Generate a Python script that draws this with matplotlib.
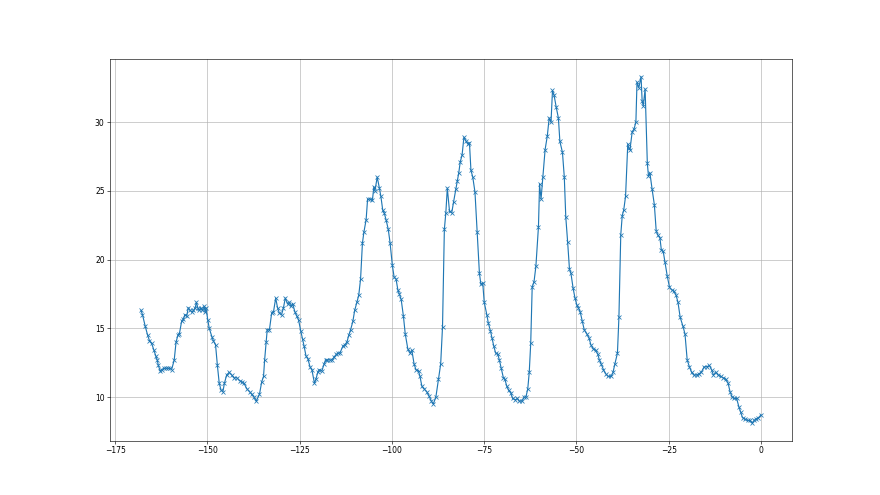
import matplotlib
matplotlib.use("Agg")
import matplotlib.pyplot as plt

hours = [
    -168.0, -167.6, -166.9, -166.2, -165.7, -165.1, -164.5, -164.0, -163.6, -163.3,
    -162.8, -162.4, -161.8, -161.3, -160.7, -160.2, -159.7, -159.0, -158.5, -158.0,
    -157.6, -157.0, -156.5, -156.1, -155.6, -155.2, -154.7, -154.2, -153.8, -153.3,
    -153.0, -152.6, -152.3, -151.8, -151.4, -150.9, -150.6, -150.4, -149.9, -149.5,
    -148.8, -148.4, -147.8, -147.3, -146.8, -146.3, -145.8, -145.4, -144.8, -144.1,
    -143.4, -142.8, -142.0, -141.3, -140.7, -140.1, -139.3, -138.6, -138.0, -137.4,
    -136.8, -135.9, -135.3, -134.8, -134.5, -134.1, -133.8, -133.2, -132.6, -132.1,
    -131.5, -131.0, -130.5, -129.9, -129.4, -128.9, -128.3, -127.8, -127.4, -126.9,
    -126.3, -125.8, -125.3, -124.7, -124.2, -123.8, -123.3, -122.8, -122.2, -121.7,
    -121.0, -120.6, -120.1, -119.7, -119.0, -118.4, -118.0, -117.5, -116.9, -116.3,
    -115.7, -115.1, -114.6, -114.1, -113.3, -112.8, -112.2, -111.7, -111.2, -110.6,
    -110.1, -109.5, -109.0, -108.5, -108.0, -107.6, -107.0, -106.6, -105.9, -105.3,
    -104.9, -104.6, -104.0, -103.4, -103.0, -102.5, -102.1, -101.6, -101.0, -100.5,
    -99.9, -99.4, -98.9, -98.4, -98.0, -97.5, -96.9, -96.4, -95.7, -95.1,
    -94.6, -94.0, -93.5, -92.8, -92.4, -91.9, -91.3, -90.6, -90.0, -89.3,
    -88.8, -88.1, -87.4, -86.8, -86.3, -85.8, -85.4, -85.0, -84.4, -83.8,
    -83.3, -82.7, -82.3, -81.9, -81.5, -81.0, -80.5, -79.9, -79.4, -79.0,
    -78.6, -78.1, -77.5, -76.9, -76.3, -75.9, -75.4, -75.0, -74.3, -73.9,
    -73.3, -72.9, -72.4, -71.9, -71.3, -70.9, -70.4, -69.8, -69.4, -68.9,
    -68.4, -67.8, -67.3, -66.6, -66.0, -65.5, -64.8, -64.2, -63.7, -63.2,
    -62.8, -62.4, -62.0, -61.5, -61.0, -60.3, -60.0, -59.6, -59.1, -58.5,
    -57.9, -57.4, -56.9, -56.5, -56.1, -55.5, -54.9, -54.5, -53.8, -53.3,
    -52.9, -52.4, -51.9, -51.5, -50.9, -50.4, -49.9, -49.5, -49.0, -48.4,
    -47.9, -47.2, -46.6, -46.1, -45.4, -44.8, -44.2, -43.8, -43.3, -42.7,
    -42.1, -41.4, -40.6, -40.1, -39.6, -38.9, -38.5, -38.0, -37.6, -37.2,
    -36.7, -36.1, -35.8, -35.5, -34.9, -34.4, -33.9, -33.6, -33.1, -32.5,
    -32.2, -31.9, -31.4, -30.8, -30.5, -30.1, -29.5, -28.9, -28.4, -28.0,
    -27.4, -27.0, -26.5, -26.0, -25.4, -24.8, -24.2, -23.6, -23.0, -22.5,
    -21.9, -21.2, -20.6, -20.0, -19.4, -18.8, -18.2, -17.4, -16.8, -16.2,
    -15.4, -14.7, -14.0, -13.4, -12.9, -12.2, -11.6, -10.9, -10.2, -9.6,
    -8.9, -8.4, -7.8, -7.2, -6.6, -6.0, -5.5, -5.0, -4.3, -3.6,
    -3.0, -2.4, -1.9, -1.4, -0.7, 0.0,
]

values = [
    16.3, 16.0, 15.2, 14.5, 14.1, 13.9, 13.4, 13.0, 12.7, 12.3,
    11.9, 12.0, 12.1, 12.1, 12.1, 12.1, 12.0, 12.7, 14.0, 14.5,
    14.6, 15.5, 15.7, 16.0, 15.9, 16.5, 16.3, 16.2, 16.3, 16.5,
    16.9, 16.5, 16.3, 16.5, 16.3, 16.6, 16.2, 16.5, 15.6, 15.0,
    14.4, 14.1, 13.8, 12.3, 11.0, 10.5, 10.4, 11.0, 11.6, 11.8,
    11.6, 11.4, 11.4, 11.2, 11.1, 11.0, 10.6, 10.4, 10.2, 10.0,
    9.7, 10.2, 11.1, 11.5, 12.7, 14.0, 14.9, 14.9, 16.1, 16.2,
    17.2, 16.5, 16.1, 16.0, 16.5, 17.2, 16.8, 16.9, 16.6, 16.8,
    16.2, 15.9, 15.6, 14.8, 14.2, 13.7, 13.0, 12.8, 12.2, 12.0,
    11.0, 11.3, 11.8, 12.0, 11.9, 12.4, 12.7, 12.7, 12.7, 12.7,
    12.9, 13.1, 13.2, 13.2, 13.7, 13.8, 14.0, 14.5, 14.9, 15.5,
    16.3, 16.9, 17.4, 18.6, 21.2, 22.0, 22.9, 24.4, 24.4, 24.3,
    25.3, 25.0, 26.0, 25.2, 24.6, 23.6, 23.4, 22.9, 22.2, 21.2,
    19.6, 18.7, 18.6, 17.8, 17.5, 17.1, 15.9, 14.6, 13.5, 13.2,
    13.4, 12.4, 12.0, 11.9, 11.5, 10.8, 10.6, 10.4, 10.1, 9.7,
    9.5, 10.0, 11.3, 12.4, 15.1, 22.2, 23.4, 25.2, 23.5, 23.4,
    24.2, 25.1, 25.7, 26.3, 27.1, 27.6, 28.9, 28.6, 28.4, 28.5,
    26.5, 26.0, 24.9, 22.0, 19.0, 18.2, 18.3, 16.9, 16.0, 15.4,
    14.8, 14.3, 13.7, 13.2, 13.1, 12.7, 12.1, 11.4, 11.3, 10.8,
    10.5, 10.3, 9.9, 9.8, 9.9, 9.7, 9.7, 10.0, 10.0, 10.6,
    11.8, 13.9, 18.0, 18.4, 19.5, 22.4, 25.5, 24.4, 26.0, 28.0,
    29.0, 30.3, 30.0, 32.3, 32.0, 31.1, 30.3, 28.6, 27.8, 26.0,
    23.1, 21.3, 19.3, 19.0, 17.9, 17.2, 16.7, 16.5, 16.2, 15.5,
    14.9, 14.6, 14.3, 13.8, 13.5, 13.4, 13.1, 12.7, 12.4, 12.0,
    11.7, 11.5, 11.5, 11.8, 12.4, 13.2, 15.8, 21.8, 23.2, 23.6,
    24.6, 28.4, 28.1, 28.0, 29.3, 29.5, 30.0, 32.9, 32.5, 33.3,
    31.5, 31.2, 32.4, 27.0, 26.1, 26.3, 25.1, 24.0, 22.1, 21.8,
    21.6, 20.7, 20.6, 19.8, 18.8, 18.0, 17.8, 17.7, 17.4, 16.9,
    15.8, 15.2, 14.6, 12.7, 12.2, 11.8, 11.6, 11.6, 11.7, 11.8,
    12.2, 12.2, 12.3, 12.0, 11.6, 11.8, 11.6, 11.5, 11.4, 11.3,
    11.0, 10.4, 10.0, 9.9, 9.9, 9.3, 8.9, 8.5, 8.4, 8.3,
    8.3, 8.1, 8.3, 8.4, 8.5, 8.7,
]

fig, ax = plt.subplots(figsize=(16, 9), dpi=55)
ax.plot(hours, values, marker="x", color="#1f77b4", linewidth=1.5, markersize=6)
ax.grid(True)
fig.savefig("out.png")
